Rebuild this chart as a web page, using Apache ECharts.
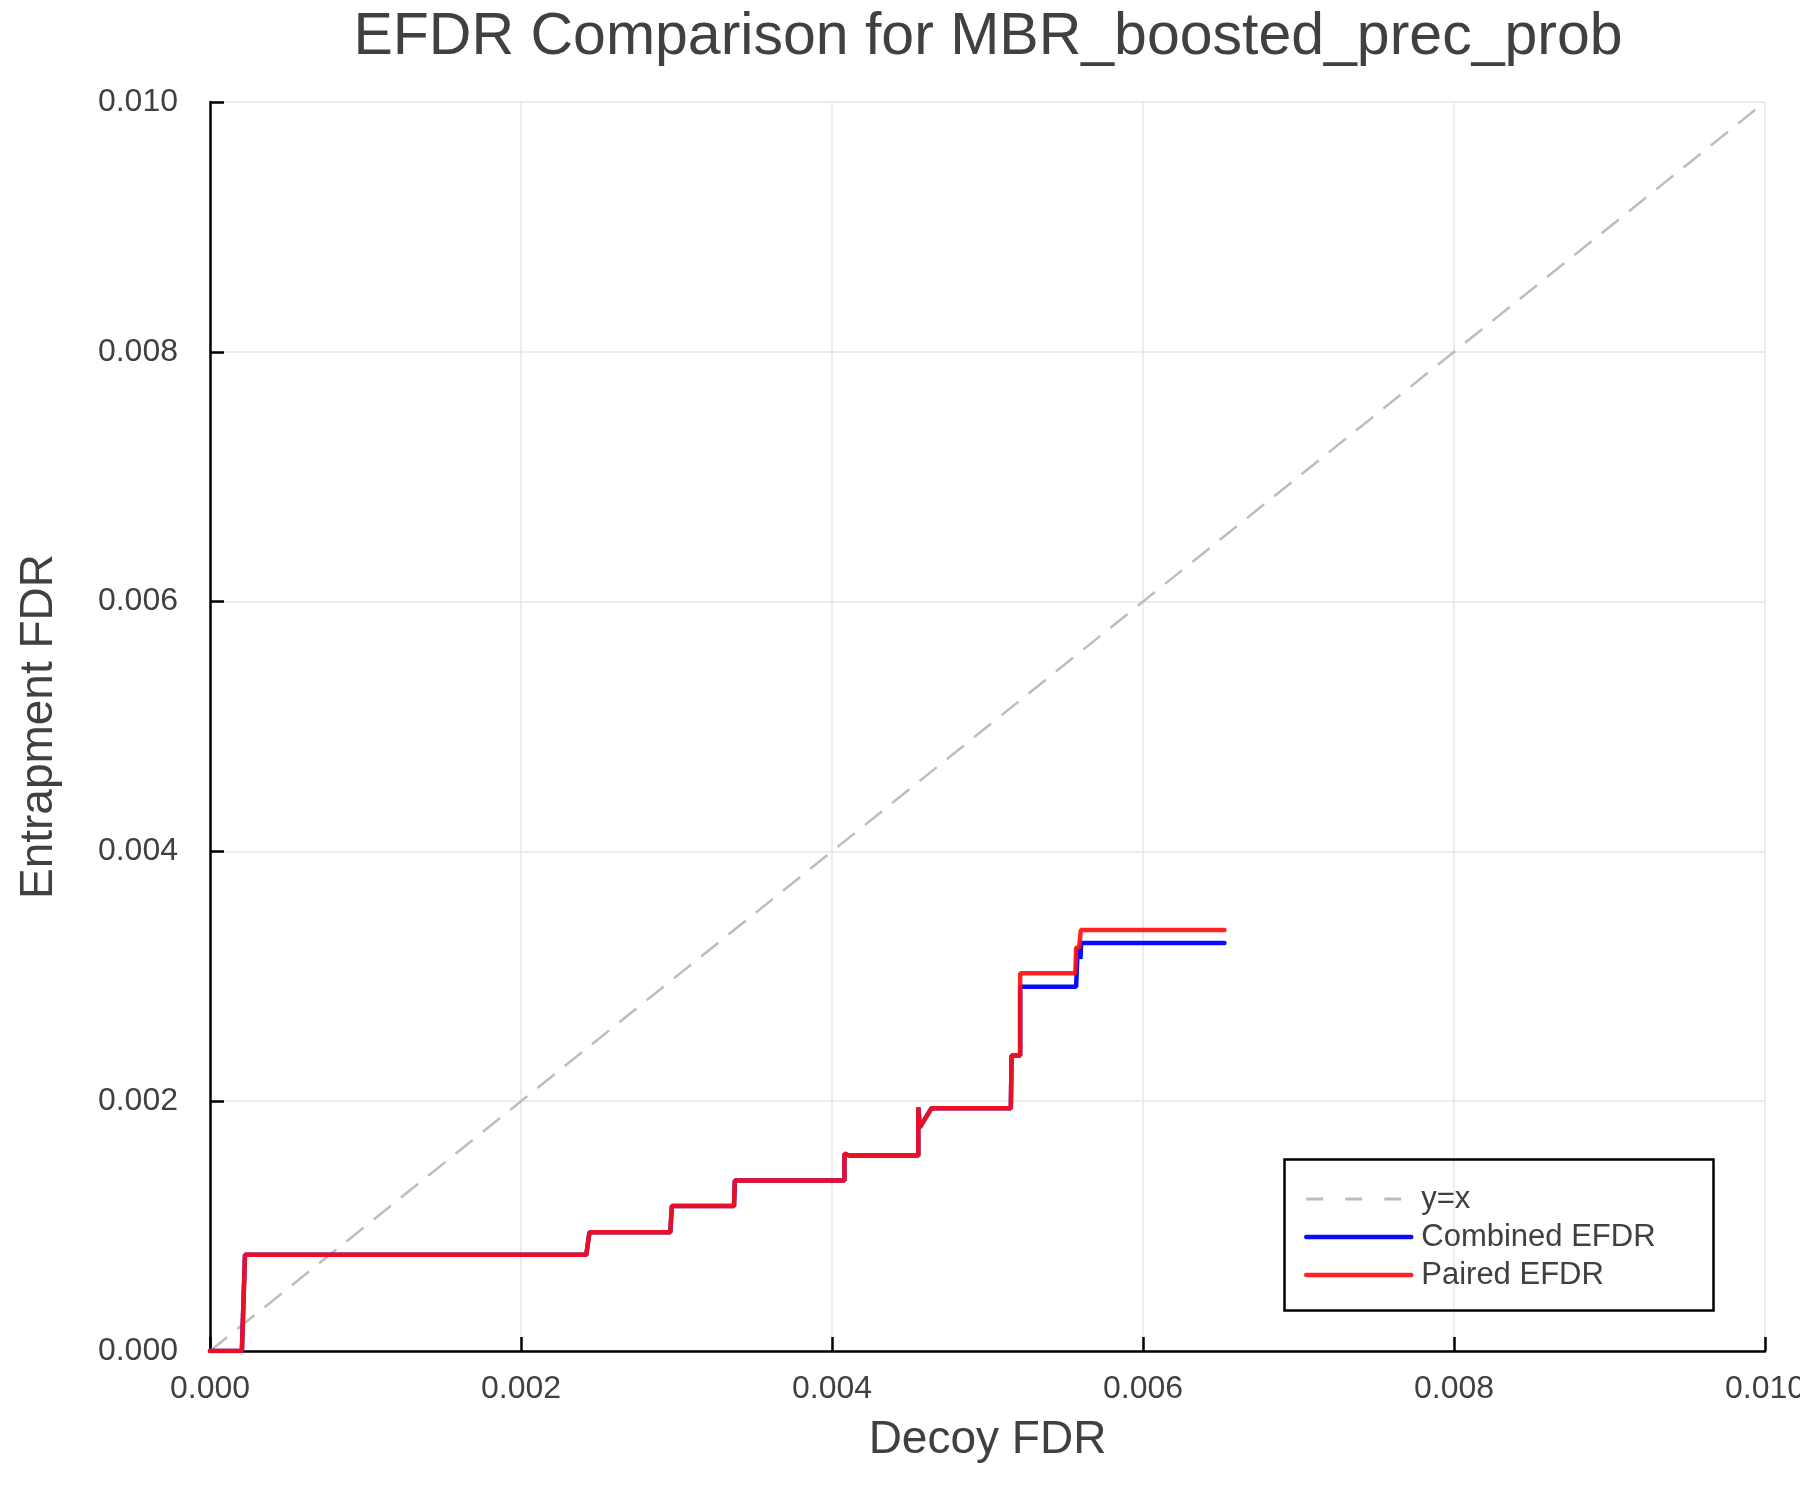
<!DOCTYPE html>
<html>
<head>
<meta charset="utf-8">
<script src="https://cdn.jsdelivr.net/npm/echarts@6/dist/echarts.min.js"></script>
<style>
  html, body { margin: 0; padding: 0; background: #fff; overflow: hidden; }
  #main { width: 1800px; height: 1500px; }
</style>
</head>
<body>
<div id="main"></div>
<script>
// values
var diagX = [0, 0.010];
var diagY = [0, 0.010];

var combinedX = [0, 0.000205, 0.000225, 0.00242, 0.00244, 0.00296, 0.00297, 0.00337, 0.003375,
  0.00408, 0.00408, 0.00411, 0.004555, 0.004555, 0.004565, 0.00464, 0.00515, 0.005155, 0.00521,
  0.00521, 0.00557, 0.00558, 0.005598, 0.005602, 0.006524];
var combinedY = [0, 0, 0.00077, 0.00077, 0.00095, 0.00095, 0.00116, 0.00116, 0.001365,
  0.001365, 0.00158, 0.001565, 0.001565, 0.00195, 0.00179, 0.001944, 0.001944, 0.002365, 0.002365,
  0.002917, 0.002917, 0.00323, 0.00314, 0.003267, 0.003267];

var pairedX = [0, 0.000205, 0.000225, 0.00242, 0.00244, 0.00296, 0.00297, 0.00337, 0.003375,
  0.00408, 0.00408, 0.00411, 0.004555, 0.004555, 0.004565, 0.00464, 0.00515, 0.005155, 0.00521,
  0.00521, 0.005565, 0.00557, 0.00559, 0.0056, 0.006524];
var pairedY = [0, 0, 0.00077, 0.00077, 0.00095, 0.00095, 0.00116, 0.00116, 0.001365,
  0.001365, 0.00158, 0.001565, 0.001565, 0.00195, 0.00179, 0.001944, 0.001944, 0.002365, 0.002365,
  0.003024, 0.003024, 0.00323, 0.00323, 0.00337, 0.00337];

function zip(xs, ys) {
  var out = [];
  for (var i = 0; i < xs.length; i++) out.push([xs[i], ys[i]]);
  return out;
}

var chartDom = document.getElementById('main');
var myChart = echarts.init(chartDom, null, { renderer: 'canvas' });
var font = 'Liberation Sans, Arial, sans-serif';
var textColor = '#404040';
var gray = '#bdbdbd', blue = '#0a0aff', red = '#ff1010';

var axisCommon = {
  type: 'value',
  min: 0,
  max: 0.010,
  interval: 0.002,
  nameLocation: 'middle',
  nameTextStyle: { fontFamily: font, fontSize: 46, color: textColor },
  axisLine: { show: true, onZero: false, lineStyle: { color: '#000', width: 2.5 } },
  axisTick: { show: true, inside: true, length: 14, lineStyle: { color: '#000', width: 2.5 } },
  axisLabel: {
    fontFamily: font, fontSize: 32, color: textColor,
    formatter: function (v) { return v.toFixed(3); }
  },
  splitLine: { show: true, lineStyle: { color: '#e6e6e6', width: 1.5 } }
};

var option = {
  backgroundColor: '#fff',
  animation: false,
  title: {
    text: 'EFDR Comparison for MBR_boosted_prec_prob',
    left: 983, top: 3, textAlign: 'center',
    textStyle: { fontFamily: font, fontSize: 59, fontWeight: 'normal', color: '#404040' }
  },
  grid: { left: 210, right: 35, top: 102, bottom: 149, containLabel: false, outerBoundsMode: 'none' },
  xAxis: Object.assign({}, axisCommon, {
    name: 'Decoy FDR',
    nameGap: 66,
    axisLabel: Object.assign({}, axisCommon.axisLabel, { margin: 22 })
  }),
  yAxis: Object.assign({}, axisCommon, {
    name: 'Entrapment FDR',
    nameGap: 148,
    axisLabel: Object.assign({}, axisCommon.axisLabel, { margin: 32 })
  }),
  legend: {
    orient: 'vertical',
    left: 1299,
    top: 1175,
    itemWidth: 105,
    itemHeight: 20,
    itemGap: 0,
    itemStyle: { opacity: 0 },
    textStyle: { fontFamily: font, fontSize: 31, color: textColor, lineHeight: 38, padding: [0, 0, 0, 5] },
    data: [
      { name: 'y=x', lineStyle: { color: gray, width: 3, type: [17, 22] } },
      { name: 'Combined EFDR', lineStyle: { color: blue, width: 4.5 } },
      { name: 'Paired EFDR', lineStyle: { color: red, width: 4.5 } }
    ]
  },
  graphic: [{
    type: 'rect',
    left: 1282, top: 1157,
    shape: { width: 429, height: 151 },
    style: { fill: null, stroke: '#000', lineWidth: 2.5 },
    z: 100
  }],
  series: [
    {
      name: 'y=x', type: 'line', data: zip(diagX, diagY),
      symbol: 'none', silent: true,
      lineStyle: { color: gray, width: 2.5, type: [22, 13] },
      itemStyle: { color: gray }
    },
    {
      name: 'Combined EFDR', type: 'line', data: zip(combinedX, combinedY),
      symbol: 'none',
      lineStyle: { color: blue, width: 4.5, cap: 'round' },
      itemStyle: { color: blue }
    },
    {
      name: 'Paired EFDR', type: 'line', data: zip(pairedX, pairedY),
      symbol: 'none',
      lineStyle: { color: red, width: 4.5, opacity: 0.92, cap: 'round' },
      itemStyle: { color: red }
    }
  ]
};

option && myChart.setOption(option);
</script>
</body>
</html>
